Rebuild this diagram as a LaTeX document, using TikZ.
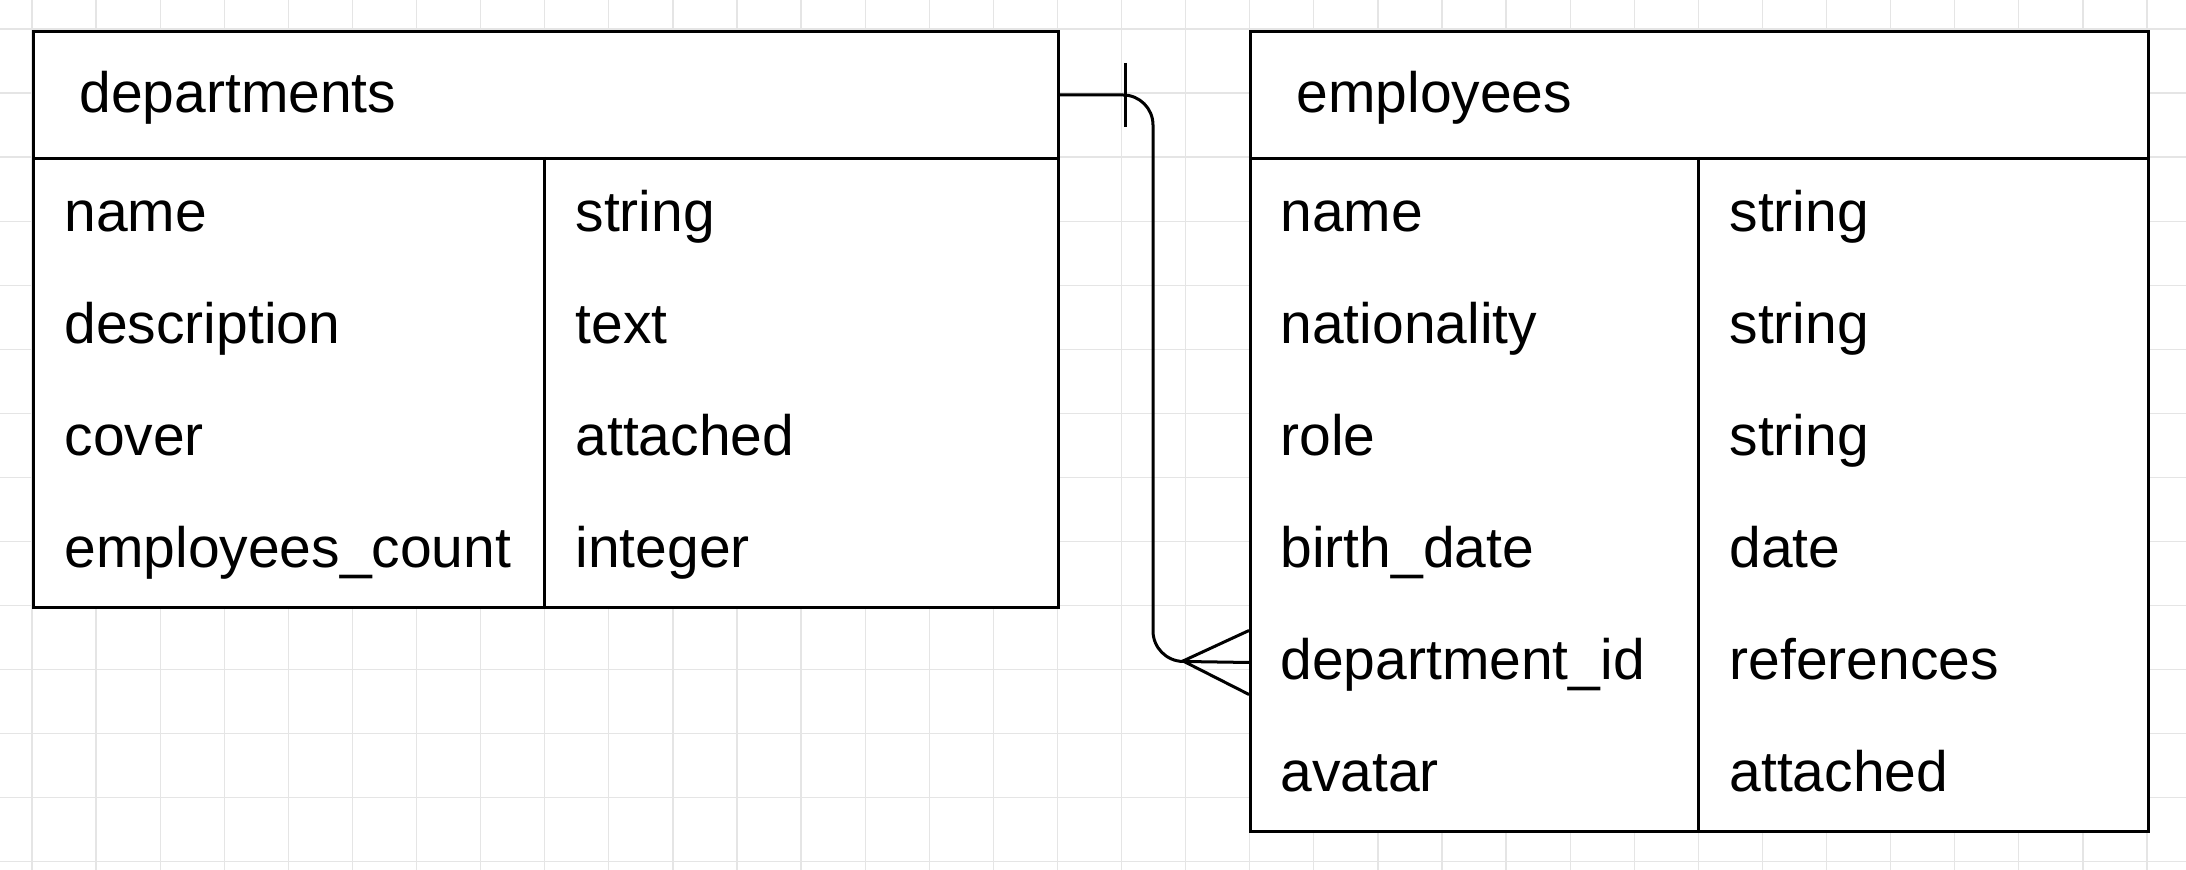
\documentclass[tikz,border=0pt]{standalone}
\usepackage{fontspec}
\setmainfont{Liberation Sans}
\begin{document}
\begin{tikzpicture}[x=0.5pt,y=-0.5pt, line width=1.5pt,
  lbl/.style={anchor=base west, inner sep=0pt, xshift=-1pt, yshift=-1pt, font=\fontsize{28.5}{34}\selectfont},
  gridline/.style={draw=black!10, line width=0.6pt},
  tbl/.style={draw=black, fill=white, line width=1.5pt, inner sep=0pt, anchor=north west},
  rowcell/.style={inner sep=0pt, anchor=north west, minimum height=56pt}]
\useasboundingbox (0,0) rectangle (2186,870);
\fill[white] (0,0) rectangle (2186,870);
\foreach \i in {0,...,33} \draw[gridline] ({32+64.09*\i},0) -- ({32+64.09*\i},870);
\foreach \j in {0,...,13} \draw[gridline] (0,{29+64.05*\j}) -- (2186,{29+64.05*\j});

% departments
\node[tbl, minimum width=512.5pt, minimum height=63.5pt] (dhead) at (32,30) {};
\node[tbl, minimum width=512.5pt, minimum height=224.5pt] (dbody) at (32,157) {};
\draw (544,157) -- (544,606);
\node[lbl] (dtitle) at (80,111) {departments};
\node[lbl] (dn1) at (65,230) {name};
\node[lbl] (dn2) at (65,342) {description};
\node[lbl] (dn3) at (65,454) {cover};
\node[lbl] (dn4) at (65,566) {employees\_count};
\node[lbl] (dt1) at (576,230) {string};
\node[lbl] (dt2) at (576,342) {text};
\node[lbl] (dt3) at (576,454) {attached};
\node[lbl] (dt4) at (576,566) {integer};

% employees
\node[tbl, minimum width=449pt, minimum height=63.5pt] (ehead) at (1249,30) {};
\node[tbl, minimum width=449pt, minimum height=336.5pt] (ebody) at (1249,157) {};
\draw (1698,157) -- (1698,830);
\node[lbl] (etitle) at (1297,111) {employees};
\node[lbl] (en1) at (1281,230) {name};
\node[lbl] (en2) at (1281,342) {nationality};
\node[lbl] (en3) at (1281,454) {role};
\node[lbl] (en4) at (1281,566) {birth\_date};
\node[lbl] (en5) at (1281,678) {department\_id};
\node[lbl] (en6) at (1281,790) {avatar};
\node[lbl] (et1) at (1730,230) {string};
\node[lbl] (et2) at (1730,342) {string};
\node[lbl] (et3) at (1730,454) {string};
\node[lbl] (et4) at (1730,566) {date};
\node[lbl] (et5) at (1730,678) {references};
\node[lbl] (et6) at (1730,790) {attached};
\node[rowcell, minimum width=449pt] (erow5) at (1249,605) {};

% relationship
\draw[rounded corners=15pt] (dhead.east) -| (1153,661) -- (erow5.west);
\draw ([xshift=32.5pt,yshift=16pt]dhead.east) -- ([xshift=32.5pt,yshift=-16pt]dhead.east);
\draw ([yshift=16pt]erow5.west) -- (1183,661) -- ([yshift=-16pt]erow5.west);
\end{tikzpicture}
\end{document}
